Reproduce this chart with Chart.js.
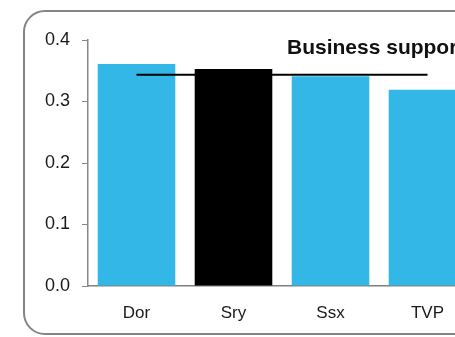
<!DOCTYPE html>
<html>
<head>
<meta charset="utf-8">
<script src="https://cdn.jsdelivr.net/npm/chart.js@4"></script>
<style>
  html, body { margin: 0; padding: 0; background: #fff; overflow: hidden; }
  body { width: 455px; height: 337px; position: relative; }
  .frame {
    position: absolute; left: 23px; top: 10px;
    width: 520px; height: 321px;
    border: 2px solid #858585; border-radius: 22px;
  }
  .wrap { position: absolute; left: 0; top: 0; width: 480px; height: 337px; }
</style>
</head>
<body>
<div class="frame"></div>
<div class="wrap"><canvas id="myChart"></canvas></div>
<script>
const labels = ['Dor', 'Sry', 'Ssx', 'TVP'];
const values = [0.361, 0.353, 0.341, 0.319];
const average = [0.3435, 0.3435, 0.3435, 0.3435];
const yTicks = [0.0, 0.1, 0.2, 0.3, 0.4];
const titleText = 'Business support';

const barColors = ['#32b7e6', '#000000', '#32b7e6', '#32b7e6'];
const fontFamily = "'Liberation Sans', Arial, sans-serif";

// title sits inside the plot, left part only is visible
const titlePlugin = {
  id: 'plotTitle',
  afterDraw(chart) {
    const ctx = chart.ctx;
    ctx.save();
    ctx.font = 'bold 21px ' + fontFamily;
    ctx.fillStyle = '#111';
    ctx.textAlign = 'left';
    ctx.textBaseline = 'middle';
    ctx.fillText(titleText, chart.chartArea.left + 199, 48);
    ctx.restore();
  }
};

const data = {
  labels: labels,
  datasets: [{
    type: 'line',
    label: 'Average',
    data: average,
    borderColor: '#000',
    borderWidth: 2,
    pointRadius: 0,
    order: 0
  }, {
    type: 'bar',
    label: 'Business support',
    data: values,
    backgroundColor: barColors,
    barPercentage: 0.8,
    categoryPercentage: 1,
    order: 1
  }]
};

const config = {
  type: 'bar',
  data: data,
  options: {
    responsive: true,
    maintainAspectRatio: false,
    animation: false,
    layout: { padding: { top: 40, right: 4, left: 0, bottom: 0 } },
    plugins: { legend: { display: false }, tooltip: { enabled: false } },
    scales: {
      x: {
        z: 1,
        grid: { display: false, drawTicks: false },
        border: { display: true, color: 'rgba(0,0,0,0.5)', width: 1.5 },
        ticks: { color: '#1a1a1a', padding: 17, font: { family: fontFamily, size: 17 } },
        afterFit(scale) { scale.height = 51; }
      },
      y: {
        min: 0,
        max: 0.4,
        afterBuildTicks(scale) { scale.ticks = yTicks.map(v => ({ value: v })); },
        grid: { drawOnChartArea: false, drawTicks: true, tickLength: 6, color: '#888' },
        border: { display: true, color: '#888', width: 1.5 },
        ticks: {
          color: '#1a1a1a', padding: 12,
          font: { family: fontFamily, size: 18 },
          callback: v => Number(v).toFixed(1)
        },
        afterFit(scale) { scale.width = 88; }
      }
    }
  },
  plugins: [titlePlugin]
};

const myChart = new Chart(document.getElementById('myChart'), config);
</script>
</body>
</html>
